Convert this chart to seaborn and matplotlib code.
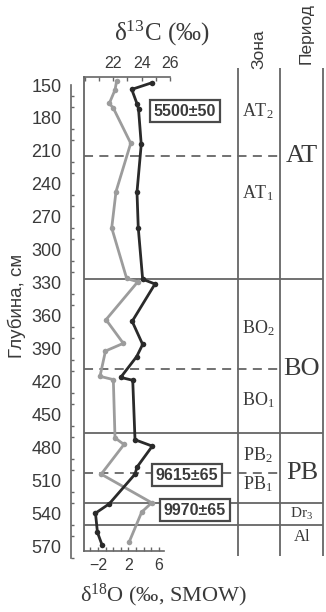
import matplotlib

matplotlib.use("Agg")
import matplotlib.pyplot as plt
from matplotlib.ticker import FixedLocator
import seaborn as sns
import pandas as pd

# --- data ---
dark_depth = [148, 154, 167, 172, 204, 247.5, 280, 326.7, 331, 365, 386, 397,
              416, 418.6, 472.7, 478.5, 497.6, 504, 531, 539.5, 557, 568.3]
dark_d13c = [24.71, 23.30, 23.67, 23.78, 23.97, 23.67, 23.76, 24.07, 24.94, 23.33, 24.07, 23.65,
             22.52, 23.37, 23.53, 24.75, 23.67, 23.53, 21.71, 20.74, 20.88, 21.20]

gray_depth = [146, 154.5, 166.7, 171, 203, 247, 280, 326, 329, 363.5, 385, 392,
              415, 418, 471, 477, 504, 530, 538.5, 565.5]
gray_d18o = [0.45, 0.23, -0.52, 0.01, 2.29, 0.36, -0.20, 1.76, 3.22, -0.95, 1.32, -1.02,
             -1.74, 0.01, 0.23, 1.41, -1.58, 5.04, 3.73, 2.10]

solid_bounds = [326.5, 466.5, 530.5, 550.5]
dashed_bounds = [214.6, 408, 503.3]

zone_labels = ["AT$_2$", "AT$_1$", "BO$_2$", "BO$_1$", "PB$_2$", "PB$_1$"]
zone_depths = [173.7, 248.2, 371, 436.5, 486.6, 513]
period_labels = ["AT", "BO", "PB", "Dr$_3$", "Al"]
period_depths = [214.6, 408, 503.3, 540.5, 561]
period_sizes = [19, 19, 19, 11, 12]

dates = ["5500±50", "9615±65", "9970±65"]
date_depths = [173.7, 505, 537]

depth_ticks = list(range(150, 571, 30))

# --- layout helpers (pixels of the 326x612 figure) ---
W, H = 326, 612
PX_CM = 1.0993
Y150 = 85


def frac_rect(x0, y0, x1, y1):
    return [x0 / W, 1 - y1 / H, (x1 - x0) / W, (y1 - y0) / H]


def depth_at(ypx):
    return 150 + (ypx - Y150) / PX_CM


sns.set_theme(style="white")
plt.rcParams["font.family"] = ["Liberation Sans", "DejaVu Sans"]
plt.rcParams["mathtext.fontset"] = "custom"
plt.rcParams["mathtext.rm"] = "Liberation Serif"
plt.rcParams["mathtext.it"] = "Liberation Serif:italic"
plt.rcParams["mathtext.default"] = "rm"

col_line = "#666666"
col_text = "#3a3a3a"
col_dark = "#2a2a2a"
col_gray = "#9c9c9c"

fig = plt.figure(figsize=(W / 100, H / 100), dpi=100)
fig.patch.set_facecolor("white")

# background axes: depth scale, zone/period columns
bg = fig.add_axes(frac_rect(71, 60, 323, 565))
bg.set_xlim(71, 323)
bg.set_ylim(depth_at(565), depth_at(60))
for s in ["top", "right", "bottom"]:
    bg.spines[s].set_visible(False)
bg.spines["left"].set_bounds(150, 580)
bg.spines["left"].set_color(col_line)
bg.spines["left"].set_linewidth(1.2)
bg.set_xticks([])
bg.yaxis.set_major_locator(FixedLocator(depth_ticks))
bg.yaxis.set_minor_locator(FixedLocator([d for d in range(150, 581, 10) if d % 30]))
bg.tick_params(axis="y", which="major", direction="out", length=4, width=1.1,
               color=col_line, labelsize=13, labelcolor=col_text, pad=3)
bg.tick_params(axis="y", which="minor", direction="in", length=2.5, width=1,
               color=col_line, left=True)

for d in solid_bounds:
    bg.hlines(d, 84, 323, color=col_line, lw=1.3, clip_on=False)
for d in dashed_bounds:
    bg.hlines(d, 84, 280, color=col_line, lw=1.3, linestyles=(0, (5, 3.5)), clip_on=False)
for xv in [238, 280, 323]:
    bg.vlines(xv, depth_at(556), depth_at(68), color=col_line, lw=1.3, clip_on=False)

for lab, d in zip(zone_labels, zone_depths):
    bg.text(258, d, lab, ha="center", va="center", fontsize=13,
            family="Liberation Serif", color=col_text)
for lab, d, fs in zip(period_labels, period_depths, period_sizes):
    bg.text(302, d, lab, ha="center", va="center", fontsize=fs,
            family="Liberation Serif", color=col_text)

# data axes
ax = fig.add_axes(frac_rect(84, 77, 170, 551))
ax.patch.set_visible(False)
ax.set_ylim(depth_at(551), depth_at(77))
ax_top = ax.twiny()
ax_top.patch.set_visible(False)

df_gray = pd.DataFrame({"depth": gray_depth, "val": gray_d18o})
df_dark = pd.DataFrame({"depth": dark_depth, "val": dark_d13c})

sns.lineplot(data=df_gray, x="val", y="depth", sort=False, estimator=None, ax=ax,
             color=col_gray, lw=2, marker="o", markersize=4, markeredgewidth=0)
sns.lineplot(data=df_dark, x="val", y="depth", sort=False, estimator=None, ax=ax_top,
             color=col_dark, lw=2, marker="o", markersize=4, markeredgewidth=0)

ax.set_xlim(-3.836, 7.443)
ax_top.set_xlim(19.93, 26.0)
ax.set_ylim(depth_at(551), depth_at(77))

for a in (ax, ax_top):
    a.set_xlabel("")
    a.set_ylabel("")
    a.tick_params(axis="y", left=False, right=False, labelleft=False, labelright=False)

for s in ["top", "right"]:
    ax.spines[s].set_visible(False)
for s in ["left", "right", "bottom"]:
    ax_top.spines[s].set_visible(False)
ax.spines["left"].set_color(col_line)
ax.spines["left"].set_linewidth(1.3)
ax.spines["bottom"].set_color(col_line)
ax.spines["bottom"].set_linewidth(1.2)
ax.spines["bottom"].set_bounds(-3.836, 6.6)
ax_top.spines["top"].set_color(col_line)
ax_top.spines["top"].set_linewidth(1.2)
ax_top.spines["top"].set_bounds(19.93, 26.0)

ax.xaxis.set_major_locator(FixedLocator([-2, 2, 6]))
ax.xaxis.set_minor_locator(FixedLocator([-3, -1, 0, 1, 3, 4, 5]))
ax.tick_params(axis="x", which="both", direction="in", length=3, width=1,
               color=col_line, labelsize=11.5, labelcolor=col_text, pad=5, bottom=True)
ax_top.xaxis.set_major_locator(FixedLocator([22, 24, 26]))
ax_top.xaxis.set_minor_locator(FixedLocator([20, 21, 23, 25]))
ax_top.tick_params(axis="x", which="both", direction="in", length=3, width=1,
                   color=col_line, labelsize=11.5, labelcolor=col_text, pad=4, top=True)

# radiocarbon date boxes
date_x = [185, 187, 195]
for lab, d, xp in zip(dates, date_depths, date_x):
    ax_top.text(xp, d, lab, transform=bg.transData, ha="center", va="center",
                fontsize=11.5, fontweight="bold", color=col_text, zorder=10, clip_on=False,
                bbox=dict(boxstyle="square,pad=0.22", facecolor="white",
                          edgecolor="#4a4a4a", linewidth=1.6))

# axis titles
fig.text(162 / W, 1 - 33 / H, "δ$^{13}$C (‰)", ha="center", va="center",
         fontsize=18, family="Liberation Serif", color=col_text)
fig.text(163 / W, 1 - 595 / H, "δ$^{18}$O (‰, SMOW)", ha="center", va="center",
         fontsize=16, family="Liberation Serif", color=col_text)
fig.text(17 / W, 1 - 306 / H, "Глубина, см", rotation=90, ha="center", va="center",
         fontsize=13.5, color=col_text)
fig.text(259 / W, 1 - 49 / H, "Зона", rotation=90, ha="center", va="center",
         fontsize=12.5, color=col_text)
fig.text(306 / W, 1 - 34 / H, "Период", rotation=90, ha="center", va="center",
         fontsize=12.5, color=col_text)

fig.savefig("out.png", dpi=100, facecolor="white")
plt.close(fig)
